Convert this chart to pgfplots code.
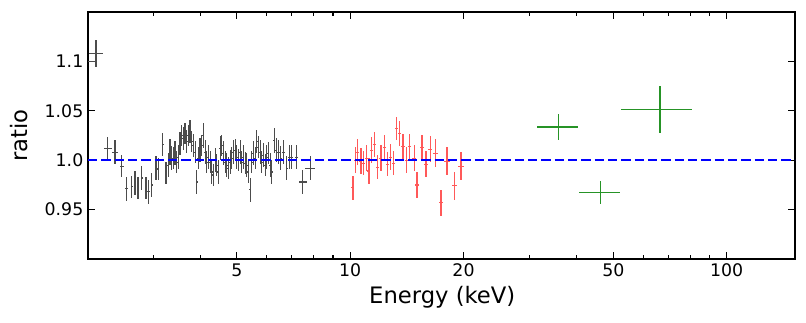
\documentclass[border=0pt]{standalone}
\usepackage{pgfplots}
\pgfplotsset{compat=1.18}
\usepackage{pgfplotstable}
\usepackage{fontspec}
\setmainfont{DejaVu Sans}
\definecolor{mplgreen}{RGB}{0,128,0}

\pgfplotstableread{
x y rx ey
1.973 1.100 0.067 0.013
2.111 1.108 0.043 0.0135
2.268 1.012 0.025 0.011
2.371 1.008 0.018 0.012
2.471 0.994 0.012 0.011
2.547 0.971 0.008 0.012
2.627 0.973 0.007 0.011
2.680 0.977 0.007 0.012
2.730 0.972 0.007 0.011
2.793 0.982 0.007 0.012
2.867 0.972 0.007 0.011
2.908 0.968 0.007 0.012
2.969 0.975 0.007 0.012
3.048 0.992 0.006 0.012
3.091 0.991 0.006 0.011
3.176 1.016 0.006 0.012
3.241 0.987 0.006 0.011
3.287 0.995 0.006 0.012
3.321 1.008 0.006 0.013
3.356 1.002 0.006 0.012
3.389 1.002 0.006 0.011
3.424 1.007 0.006 0.012
3.460 0.998 0.006 0.011
3.494 1.003 0.006 0.012
3.531 1.017 0.006 0.012
3.568 1.025 0.006 0.011
3.603 1.022 0.006 0.012
3.640 1.027 0.006 0.011
3.679 1.019 0.006 0.012
3.715 1.025 0.006 0.011
3.754 1.029 0.006 0.012
3.793 1.019 0.006 0.011
3.830 1.015 0.006 0.012
3.871 1.008 0.006 0.011
3.911 0.978 0.006 0.012
3.950 1.002 0.006 0.011
3.991 1.010 0.006 0.012
4.033 1.015 0.006 0.011
4.073 1.025 0.006 0.013
4.115 1.008 0.006 0.012
4.158 0.998 0.006 0.011
4.199 1.003 0.006 0.012
4.243 0.998 0.006 0.011
4.287 0.988 0.006 0.012
4.330 0.985 0.006 0.011
4.375 1.000 0.006 0.012
4.421 0.995 0.006 0.011
4.464 0.988 0.006 0.012
4.511 1.012 0.006 0.012
4.558 1.015 0.006 0.011
4.603 1.007 0.006 0.012
4.651 0.998 0.006 0.011
4.700 0.995 0.006 0.012
4.746 0.992 0.006 0.011
4.796 0.998 0.006 0.012
4.846 1.002 0.006 0.011
4.894 1.008 0.006 0.012
4.945 1.010 0.006 0.011
4.997 1.003 0.006 0.012
5.046 1.000 0.006 0.011
5.099 1.008 0.006 0.012
5.152 0.998 0.006 0.011
5.203 1.003 0.006 0.012
5.257 0.997 0.006 0.011
5.312 0.995 0.006 0.012
5.364 0.988 0.006 0.011
5.420 0.970 0.006 0.012
5.477 0.998 0.006 0.011
5.531 1.007 0.006 0.012
5.589 1.002 0.006 0.011
5.648 1.019 0.006 0.012
5.703 1.013 0.006 0.011
5.763 1.008 0.006 0.012
5.823 0.998 0.006 0.011
5.880 1.005 0.006 0.012
5.942 0.995 0.006 0.011
6.004 1.003 0.006 0.012
6.063 1.007 0.006 0.011
6.127 0.995 0.006 0.012
6.191 0.988 0.006 0.012
6.279 1.020 0.007 0.013
6.356 1.010 0.007 0.012
6.446 1.008 0.007 0.012
6.542 1.002 0.007 0.012
6.647 1.008 0.007 0.012
6.787 0.992 0.007 0.012
6.896 1.003 0.007 0.012
6.998 1.003 0.008 0.012
7.184 1.003 0.010 0.012
7.485 0.978 0.025 0.012
7.828 0.992 0.030 0.012
}\blackdata

\pgfplotstableread{
x y rx ey
10.167 0.972 0.009 0.012
10.311 1.000 0.009 0.013
10.457 1.008 0.009 0.013
10.677 0.999 0.009 0.013
10.848 0.997 0.009 0.012
11.029 1.002 0.009 0.013
11.213 0.989 0.009 0.013
11.372 1.010 0.009 0.013
11.583 1.016 0.009 0.013
11.820 0.993 0.009 0.012
12.069 1.002 0.009 0.013
12.315 1.013 0.009 0.013
12.566 0.996 0.009 0.012
12.799 1.003 0.009 0.013
13.036 0.997 0.010 0.012
13.254 1.032 0.010 0.012
13.524 1.027 0.010 0.013
13.808 1.014 0.010 0.013
14.090 1.000 0.010 0.013
14.395 1.014 0.010 0.013
14.797 1.002 0.012 0.013
15.044 0.975 0.012 0.013
15.511 1.013 0.012 0.013
15.896 0.996 0.012 0.013
16.319 1.011 0.012 0.013
16.827 1.007 0.014 0.014
17.425 0.957 0.014 0.013
18.077 0.999 0.016 0.014
18.903 0.974 0.016 0.014
19.697 0.994 0.018 0.014
}\reddata

\pgfplotstableread{
x y xp xm ey
35.8 1.0334 4.5 4.4 0.013
46.3 0.9673 5.9 5.8 0.012
66.6 1.0515 14.1 14.1 0.024
}\greendata

\begin{document}
\begin{tikzpicture}
\begin{axis}[
  at={(0,0)}, anchor=south west,
  scale only axis,
  width=530.25pt, height=185.25pt,
  xmode=log,
  xmin=2.01, xmax=152,
  ymin=0.9, ymax=1.15,
  xtick={5,10,20,50,100},
  xticklabels={5,10,20,50,100},
  minor xtick={3,4,6,7,8,9,30,40,60,70,80,90},
  ytick={0.95,1.0,1.05,1.1},
  yticklabels={0.95,1.0,1.05,1.1},
  tick align=inside,
  xtick pos=both, ytick pos=both,
  major tick length=5pt,
  minor tick length=3pt,
  every tick/.style={black, line width=0.8pt},
  axis line style={line width=1.1pt},
  tick label style={font=\fontsize{13}{15}\selectfont},
  xlabel={Energy (keV)},
  ylabel={ratio},
  label style={font=\fontsize{17}{19}\selectfont},
  xlabel style={at={(axis description cs:0.501,-0.154)}, anchor=center},
  ylabel style={at={(axis description cs:-0.0976,0.5)}, anchor=center},
  /pgf/number format/assume math mode=true,
  clip=true,
]
\addplot[draw=none, mark=none,
  error bars/.cd, x dir=both, x explicit relative, y dir=both, y explicit,
  error mark=none, error bar style={black!70, line width=0.9pt}]
  table[x=x, y=y, x error=rx, y error=ey] {\blackdata};
\addplot[draw=none, mark=none,
  error bars/.cd, x dir=both, x explicit relative, y dir=both, y explicit,
  error mark=none, error bar style={red!65, line width=0.9pt}]
  table[x=x, y=y, x error=rx, y error=ey] {\reddata};
\addplot[draw=none, mark=none,
  error bars/.cd, x dir=both, x explicit, y dir=both, y explicit,
  error mark=none, error bar style={mplgreen!85, line width=1.1pt}]
  table[x=x, y=y, x error plus=xp, x error minus=xm, y error=ey] {\greendata};
\addplot[blue, line width=1.5pt, dash pattern=on 7pt off 3pt] coordinates {(2.01,1.0) (152,1.0)};
\end{axis}
\pgfresetboundingbox
\path[use as bounding box] (-66pt,-47.25pt) rectangle (538.5pt,194.25pt);
\end{tikzpicture}
\end{document}
